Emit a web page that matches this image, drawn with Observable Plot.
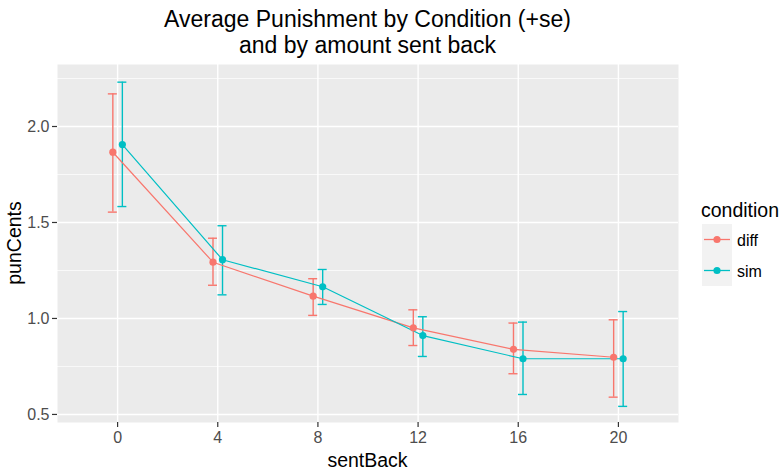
<!DOCTYPE html>
<html><head><meta charset="utf-8">
<script src="https://cdn.jsdelivr.net/npm/d3@7"></script>
<script src="https://cdn.jsdelivr.net/npm/@observablehq/plot@0.6"></script>
<style>
body{margin:0;background:#fff;}
#wrap{position:relative;width:781px;height:472px;overflow:hidden}
</style></head><body><div id="wrap"></div>
<script>
const sentBack = [0, 4, 8, 12, 16, 20];
const conditions = ["diff", "sim"];
const diffMean = [1.866, 1.293, 1.116, 0.951, 0.839, 0.798];
const diffLow  = [1.554, 1.173, 1.016, 0.859, 0.712, 0.590];
const diffHigh = [2.170, 1.418, 1.207, 1.045, 0.976, 0.993];
const simMean  = [1.906, 1.306, 1.165, 0.911, 0.790, 0.790];
const simLow   = [1.583, 1.123, 1.073, 0.802, 0.604, 0.542];
const simHigh  = [2.231, 1.483, 1.255, 1.009, 0.981, 1.036];
const xTicks = [0, 4, 8, 12, 16, 20];
const yTicks = [0.5, 1.0, 1.5, 2.0];
const yMinor = [0.75, 1.25, 1.75, 2.25];
const colors = ["#F8766D", "#00BFC4"];
const titleLines = ["Average Punishment by Condition (+se)", "and by amount sent back"];

const dodge = {diff: -0.19, sim: 0.19};
const cap = 0.18;
const series = {diff: [diffMean, diffLow, diffHigh], sim: [simMean, simLow, simHigh]};
const rows = [];
for (const c of conditions) {
  sentBack.forEach((s, i) => rows.push({
    condition: c, sentBack: s, x: s + dodge[c],
    mean: series[c][0][i], lo: series[c][1][i], hi: series[c][2][i]
  }));
}

const FONT = "Liberation Sans, Arial, sans-serif";
const W = 781, H = 472;
const plot = Plot.plot({
  width: W, height: H,
  marginLeft: 57, marginRight: 103, marginTop: 64, marginBottom: 50,
  style: {fontFamily: FONT, fontSize: "16px", background: "#fff"},
  x: {domain: [-2.4, 22.4]},
  y: {domain: [0.458, 2.323]},
  color: {domain: conditions, range: colors},
  marks: [
    Plot.frame({fill: "#EBEBEB", stroke: null}),
    Plot.ruleY(yMinor, {stroke: "#fff", strokeWidth: 0.7}),
    Plot.ruleY(yTicks, {stroke: "#fff", strokeWidth: 1.4}),
    Plot.ruleX(xTicks, {stroke: "#fff", strokeWidth: 1.4}),
    Plot.axisX({ticks: xTicks, tickSize: 5, tickPadding: 4, stroke: "#333", fill: "#4D4D4D", label: null, strokeWidth: 1.2, fontSize: 16}),
    Plot.axisY({ticks: yTicks, tickFormat: d3.format(".1f"), tickSize: 5, tickPadding: 3, stroke: "#333", fill: "#4D4D4D", label: null, strokeWidth: 1.2, fontSize: 16}),
    Plot.ruleX(rows, {x: "x", y1: "lo", y2: "hi", stroke: "condition", strokeWidth: 1.4}),
    Plot.ruleY(rows, {y: "lo", x1: d => d.x - cap, x2: d => d.x + cap, stroke: "condition", strokeWidth: 1.4}),
    Plot.ruleY(rows, {y: "hi", x1: d => d.x - cap, x2: d => d.x + cap, stroke: "condition", strokeWidth: 1.4}),
    Plot.line(rows, {x: "x", y: "mean", z: "condition", stroke: "condition", strokeWidth: 1.2}),
    Plot.dot(rows, {x: "x", y: "mean", fill: "condition", r: 3.6, stroke: null})
  ]
});
document.getElementById("wrap").appendChild(plot);

const svg = d3.select(plot);
const cx = (57 + (W - 103)) / 2;
const txt = (x, y, s, size, anchor) => svg.append("text").attr("x", x).attr("y", y)
  .attr("text-anchor", anchor || "start").attr("font-family", FONT)
  .attr("font-size", size).attr("fill", "#000").text(s);
txt(cx, 26.5, titleLines[0], 23, "middle");
txt(cx, 53, titleLines[1], 23, "middle");
txt(cx, 467, "sentBack", 19.5, "middle");
svg.append("text").attr("transform", `translate(21,${(64 + 422) / 2}) rotate(-90)`).attr("text-anchor", "middle")
  .attr("font-family", FONT).attr("font-size", 19.5).attr("fill", "#000").text("punCents");

// legend
txt(701, 216.5, "condition", 19.5);
conditions.forEach((c, i) => {
  const y0 = 224 + i * 31;
  svg.append("rect").attr("x", 702).attr("y", y0).attr("width", 30).attr("height", 31).attr("fill", "#F2F2F2");
  svg.append("line").attr("x1", 704).attr("x2", 730).attr("y1", y0 + 15.5).attr("y2", y0 + 15.5).attr("stroke", colors[i]).attr("stroke-width", 1.3);
  svg.append("circle").attr("cx", 717).attr("cy", y0 + 15.5).attr("r", 3.6).attr("fill", colors[i]);
  txt(737, y0 + 21.5, c, 16);
});
</script></body></html>
